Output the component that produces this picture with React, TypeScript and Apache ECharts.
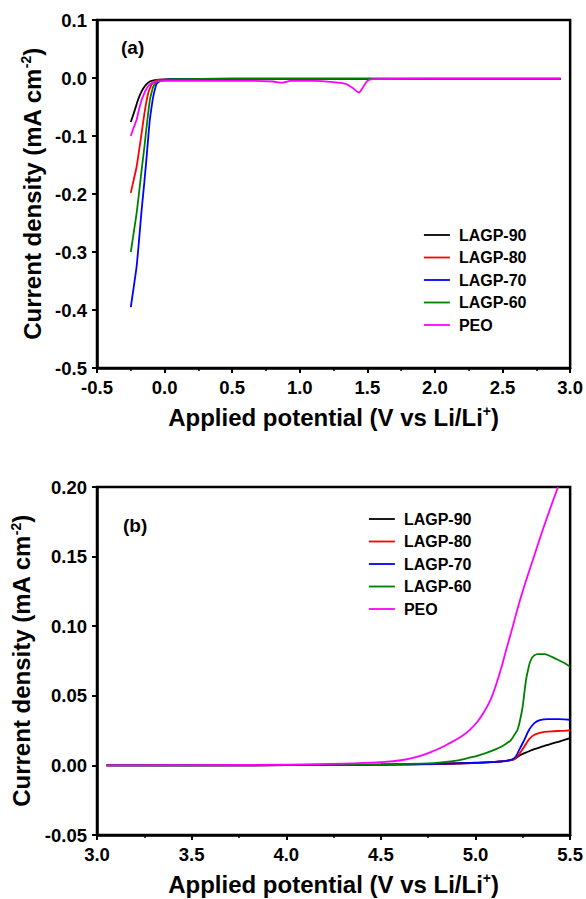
import React, { useEffect, useRef } from "react";
import * as echarts from "echarts";

type Pt = [number, number];

const seriesNames = ["LAGP-90", "LAGP-80", "LAGP-70", "LAGP-60", "PEO"];
const seriesColors = ["#000000", "#ff0000", "#0000ff", "#008000", "#ff00ff"];

// Panel (a): reduction side
const aLagp90: Pt[] = [
  [-0.25, -0.076], [-0.22, -0.055], [-0.197, -0.038], [-0.178, -0.027], [-0.158, -0.018],
  [-0.135, -0.011], [-0.109, -0.006], [-0.08, -0.004], [-0.035, -0.003], [0.1, -0.002],
  [0.5, -0.002], [1.0, -0.002], [1.5, -0.002], [2.0, -0.002], [2.5, -0.002], [2.93, -0.002],
];
const aLagp80: Pt[] = [
  [-0.25, -0.198], [-0.228, -0.175], [-0.207, -0.153], [-0.188, -0.124], [-0.17, -0.095],
  [-0.145, -0.055], [-0.121, -0.026], [-0.1, -0.013], [-0.084, -0.008], [-0.06, -0.004],
  [-0.03, -0.003], [0.1, -0.002], [0.5, -0.002], [1.0, -0.002], [1.5, -0.002], [2.0, -0.002],
  [2.5, -0.002], [2.93, -0.002],
];
const aLagp70: Pt[] = [
  [-0.25, -0.395], [-0.228, -0.36], [-0.207, -0.325], [-0.188, -0.277], [-0.17, -0.228],
  [-0.15, -0.18], [-0.133, -0.136], [-0.12, -0.1], [-0.109, -0.072], [-0.095, -0.048],
  [-0.084, -0.032], [-0.07, -0.018], [-0.059, -0.01], [-0.04, -0.006], [-0.022, -0.004],
  [0.05, -0.002], [0.5, -0.001], [1.0, -0.001], [1.5, -0.001], [2.0, -0.001], [2.5, -0.001],
  [2.93, -0.001],
];
const aLagp60: Pt[] = [
  [-0.25, -0.3], [-0.228, -0.266], [-0.207, -0.233], [-0.188, -0.196], [-0.17, -0.159],
  [-0.15, -0.12], [-0.133, -0.084], [-0.12, -0.058], [-0.109, -0.038], [-0.095, -0.024],
  [-0.084, -0.015], [-0.065, -0.008], [-0.047, -0.005], [0.0, -0.003], [0.1, -0.002],
  [0.5, -0.001], [1.0, -0.001], [1.5, -0.001], [2.0, -0.001], [2.5, -0.001], [2.93, -0.001],
];
const aPeo: Pt[] = [
  [-0.25, -0.1], [-0.228, -0.085], [-0.207, -0.072], [-0.19, -0.055], [-0.17, -0.038],
  [-0.15, -0.026], [-0.133, -0.018], [-0.11, -0.011], [-0.084, -0.0075], [-0.05, -0.006],
  [0.0, -0.005], [0.3, -0.005], [0.6, -0.005], [0.8, -0.006], [0.87, -0.008], [0.93, -0.005],
  [1.1, -0.005], [1.25, -0.007], [1.34, -0.01], [1.39, -0.017], [1.437, -0.025], [1.47, -0.015],
  [1.5, -0.005], [1.54, -0.002], [2.0, -0.001], [2.5, -0.001], [2.93, -0.001],
];

// Panel (b): oxidation side
const bLagp90: Pt[] = [
  [3.05, 0], [3.5, 0], [4.0, 0.0002], [4.5, 0.0005], [4.8, 0.001], [5.0, 0.0018], [5.1, 0.0025],
  [5.17, 0.0035], [5.205, 0.0045], [5.24, 0.0076], [5.28, 0.01], [5.311, 0.0117], [5.36, 0.0138],
  [5.399, 0.0155], [5.45, 0.0175], [5.5, 0.0196],
];
const bLagp80: Pt[] = [
  [3.05, 0], [3.5, 0], [4.0, 0.0002], [4.5, 0.0005], [4.8, 0.001], [5.0, 0.0018], [5.1, 0.0025],
  [5.17, 0.0035], [5.205, 0.0045], [5.23, 0.008], [5.258, 0.0136], [5.285, 0.019], [5.311, 0.022],
  [5.35, 0.0237], [5.399, 0.0244], [5.45, 0.0248], [5.5, 0.0251],
];
const bLagp70: Pt[] = [
  [3.05, 0], [3.5, 0], [4.0, 0.0002], [4.5, 0.0006], [4.8, 0.0012], [5.0, 0.0019], [5.1, 0.0024],
  [5.135, 0.0028], [5.17, 0.0035], [5.205, 0.0052], [5.23, 0.011], [5.258, 0.0184], [5.285, 0.026],
  [5.311, 0.0304], [5.34, 0.0325], [5.381, 0.0333], [5.44, 0.0332], [5.5, 0.0328],
];
const bLagp60: Pt[] = [
  [3.05, 0], [3.5, 0.0001], [4.0, 0.0003], [4.3, 0.0006], [4.6, 0.001], [4.781, 0.0017],
  [4.88, 0.003], [4.958, 0.0052], [5.03, 0.0078], [5.099, 0.0112], [5.15, 0.0145], [5.188, 0.0184],
  [5.21, 0.023], [5.222, 0.0256], [5.236, 0.033], [5.249, 0.0423], [5.267, 0.0615], [5.28, 0.07],
  [5.293, 0.0759], [5.31, 0.079], [5.329, 0.08], [5.364, 0.08], [5.39, 0.0788], [5.417, 0.0771],
  [5.47, 0.0735], [5.5, 0.0708],
];
const bPeo: Pt[] = [
  [3.05, 0], [3.5, 0.0002], [4.0, 0.0006], [4.3, 0.0013], [4.5, 0.0024], [4.605, 0.0037],
  [4.7, 0.0065], [4.781, 0.0105], [4.85, 0.015], [4.923, 0.0205], [4.97, 0.0255], [5.011, 0.0315],
  [5.05, 0.0395], [5.082, 0.048], [5.11, 0.0585], [5.135, 0.0695], [5.16, 0.082], [5.188, 0.0955],
  [5.24, 0.121], [5.311, 0.151], [5.37, 0.175], [5.436, 0.2],
];

const panelAData = [aLagp90, aLagp80, aLagp70, aLagp60, aPeo];
const panelBData = [bLagp90, bLagp80, bLagp70, bLagp60, bPeo];

const xTitle = "{n|Applied potential (V vs Li/Li}{s|+}{n|)}";
const yTitle = "{n|Current density (mA cm}{s|-2}{n|)}";

const FONT = '"Liberation Sans", Arial, Helvetica, sans-serif';

const fmt = (v: number, d: number) => (Math.abs(v) < 1e-9 ? 0 : v).toFixed(d);

const titleRich = {
  n: { fontSize: 24, fontWeight: "bold", fontFamily: FONT, color: "#000", lineHeight: 26 },
  s: { fontSize: 14, fontWeight: "bold", fontFamily: FONT, color: "#000", verticalAlign: "top", lineHeight: 14 },
};

function xAxisCfg(gridIndex: number, min: number, max: number) {
  return {
    type: "value",
    gridIndex,
    min,
    max,
    interval: 0.5,
    name: xTitle,
    nameLocation: "middle",
    nameGap: 36,
    nameTextStyle: { rich: titleRich },
    axisLine: { show: true, onZero: false, lineStyle: { color: "#000", width: 2.5 } },
    axisTick: { show: true, inside: false, length: 5, lineStyle: { color: "#000", width: 2 } },
    minorTick: { show: true, splitNumber: 2, length: 3, lineStyle: { color: "#000", width: 1.5 } },
    splitLine: { show: false },
    minorSplitLine: { show: false },
    axisLabel: {
      fontSize: 18.5,
      fontWeight: "bold",
      fontFamily: FONT,
      color: "#000",
      margin: 10,
      formatter: (v: number) => fmt(v, 1),
    },
  };
}

function yAxisCfg(gridIndex: number, min: number, max: number, interval: number, dec: number) {
  return {
    type: "value",
    gridIndex,
    min,
    max,
    interval,
    name: yTitle,
    nameLocation: "middle",
    nameGap: 52,
    nameTextStyle: { rich: titleRich },
    axisLine: { show: true, onZero: false, lineStyle: { color: "#000", width: 2.5 } },
    axisTick: { show: true, inside: false, length: 5, lineStyle: { color: "#000", width: 2 } },
    splitLine: { show: false },
    axisLabel: {
      fontSize: 18.5,
      fontWeight: "bold",
      fontFamily: FONT,
      color: "#000",
      margin: 10,
      formatter: (v: number) => fmt(v, dec),
    },
  };
}

function legendCfg(left: number, top: number) {
  return {
    data: seriesNames,
    orient: "vertical",
    left,
    top,
    padding: 0,
    itemWidth: 26,
    itemHeight: 14,
    itemGap: 6.5,
    selectedMode: false,
    itemStyle: { opacity: 0 },
    lineStyle: { width: 1.8 },
    textStyle: {
      fontSize: 16,
      fontWeight: "bold",
      fontFamily: FONT,
      color: "#000",
      lineHeight: 16,
      padding: [0, 0, 0, 4],
    },
  };
}

export default function App() {
  const ref = useRef<HTMLDivElement>(null);

  useEffect(() => {
    if (!ref.current) return;
    const chart = echarts.init(ref.current, null, { renderer: "svg" });

    const mkSeries = (data: Pt[][], idx: number, smooth: number) =>
      data.map((d, i) => ({
        type: "line",
        name: seriesNames[i],
        xAxisIndex: idx,
        yAxisIndex: idx,
        data: d,
        symbol: "none",
        showSymbol: false,
        smooth,
        clip: true,
        color: seriesColors[i],
        lineStyle: { color: seriesColors[i], width: 1.8 },
      }));

    const gridBase = {
      left: 97,
      width: 474,
      height: 348,
      show: true,
      borderColor: "#000",
      borderWidth: 2.5,
      backgroundColor: "transparent",
    };

    const option: any = {
      animation: false,
      backgroundColor: "#fff",
      textStyle: { fontFamily: FONT },
      grid: [
        { ...gridBase, top: 20 },
        { ...gridBase, top: 487 },
      ],
      xAxis: [xAxisCfg(0, -0.5, 3.0), xAxisCfg(1, 3.0, 5.5)],
      yAxis: [yAxisCfg(0, -0.5, 0.1, 0.1, 1), yAxisCfg(1, -0.05, 0.2, 0.05, 2)],
      legend: [legendCfg(423, 227), legendCfg(368, 511)],
      series: [...mkSeries(panelAData, 0, 0.25), ...mkSeries(panelBData, 1, 0.45)],
      graphic: [
        {
          type: "text",
          left: 121,
          top: 38,
          style: { text: "(a)", font: `bold 19px ${FONT}`, fill: "#000" },
        },
        {
          type: "text",
          left: 123,
          top: 516,
          style: { text: "(b)", font: `bold 19px ${FONT}`, fill: "#000" },
        },
      ],
    };

    chart.setOption(option);
    return () => chart.dispose();
  }, []);

  return (
    <div
      ref={ref}
      style={{ position: "absolute", left: 0, top: 0, width: 586, height: 899 }}
    />
  );
}
